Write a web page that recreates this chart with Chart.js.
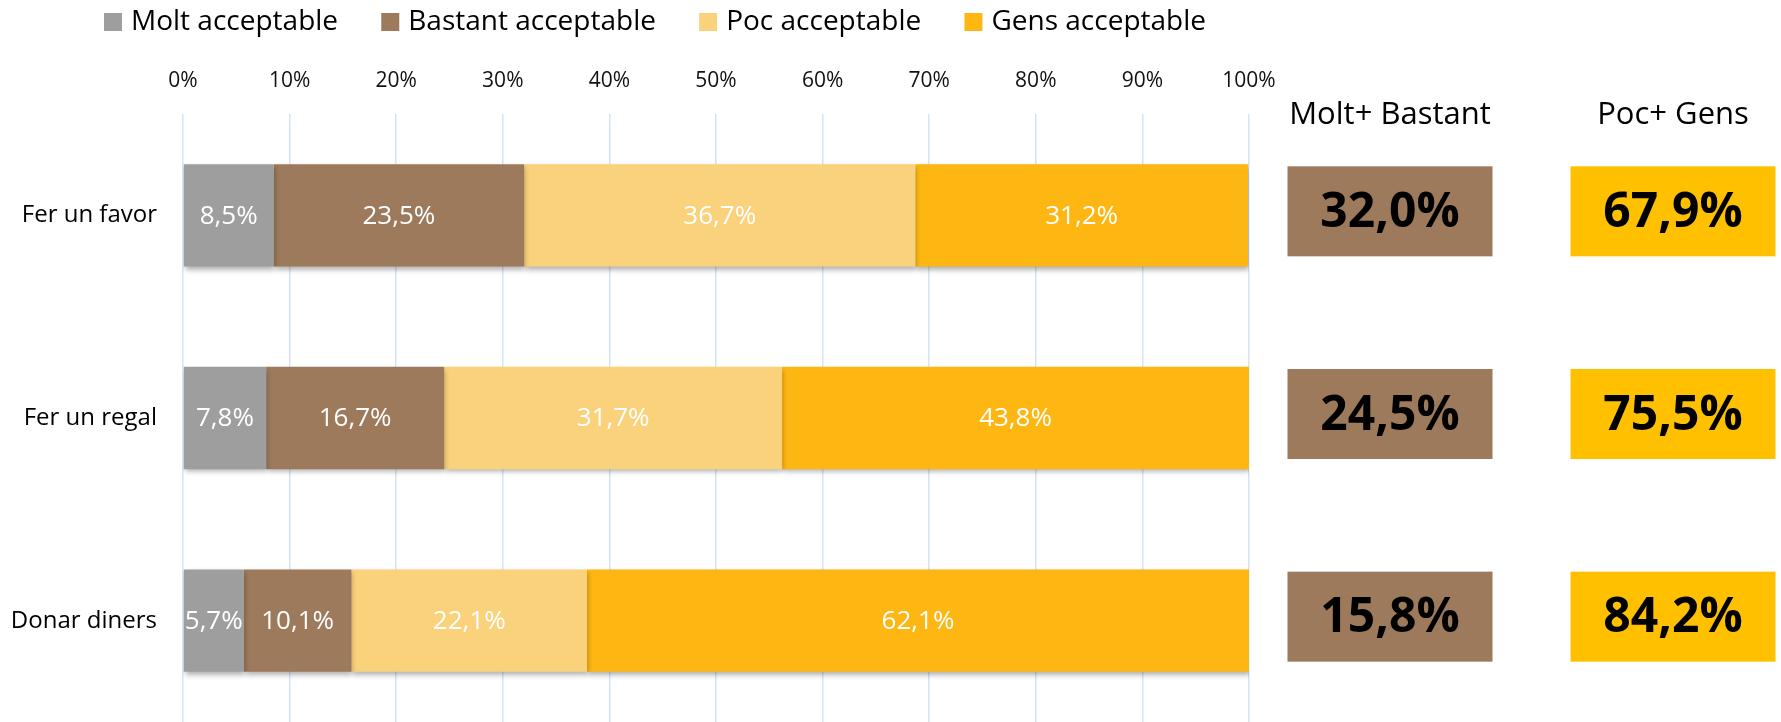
<!DOCTYPE html>
<html lang="ca">
<head>
<meta charset="UTF-8">
<title>Acceptabilitat</title>
<script src="https://cdn.jsdelivr.net/npm/chart.js"></script>
<style>
    body { margin: 0; background: #fff; }
    #wrap { width: 1781px; height: 722px; }
</style>
</head>
<body>
<div id="wrap"><canvas id="chart" width="1781" height="722"></canvas></div>
<script>
// data
const categories = ['Fer un favor', 'Fer un regal', 'Donar diners'];
const seriesNames = ['Molt acceptable', 'Bastant acceptable', 'Poc acceptable', 'Gens acceptable'];
const molt = [8.5, 7.8, 5.7];
const bastant = [23.5, 16.7, 10.1];
const poc = [36.7, 31.7, 22.1];
const gens = [31.2, 43.8, 62.1];
const xTicks = [0, 10, 20, 30, 40, 50, 60, 70, 80, 90, 100];
const summaryTitles = ['Molt+ Bastant', 'Poc+ Gens'];

const colors = ['#9E9E9E', '#9C7A5B', '#FAD27B', '#FDB612'];
const boxColors = ['#9C7A5B', '#FFC000'];
const FONT = "'Open Sans', sans-serif";

function pct(v) {
    return v.toFixed(1).replace('.', ',') + '%';
}

// shadow under the bars + white value labels
const barExtras = {
    id: 'barExtras',
    beforeDatasetsDraw(chart) {
        const ctx = chart.ctx;
        ctx.save();
        ctx.shadowColor = 'rgba(0,0,0,0.3)';
        ctx.shadowBlur = 5;
        ctx.shadowOffsetX = 1;
        ctx.shadowOffsetY = 3;
    },
    afterDatasetsDraw(chart) {
        const ctx = chart.ctx;
        ctx.restore();
        ctx.save();
        ctx.fillStyle = '#fff';
        ctx.font = '26px ' + FONT;
        ctx.textAlign = 'center';
        ctx.textBaseline = 'middle';
        chart.data.datasets.forEach((ds, di) => {
            chart.getDatasetMeta(di).data.forEach((bar, i) => {
                ctx.fillText(pct(ds.data[i]), (bar.x + bar.base) / 2, bar.y + 1);
            });
        });
        ctx.restore();
    }
};

// legend drawn by hand so it sits like the original
const topLegend = {
    id: 'topLegend',
    afterDraw(chart) {
        const ctx = chart.ctx;
        ctx.save();
        ctx.font = '28px ' + FONT;
        ctx.textBaseline = 'middle';
        const startX = 104, endX = 1206, y = 22, box = 18, gapText = 27;
        const widths = seriesNames.map(n => ctx.measureText(n).width);
        const used = widths.reduce((a, w) => a + w + gapText, 0);
        const gap = (endX - startX - used) / (seriesNames.length - 1);
        let x = startX;
        seriesNames.forEach((name, i) => {
            ctx.fillStyle = colors[i];
            ctx.fillRect(x, y - box / 2, box, box);
            ctx.fillStyle = '#000';
            ctx.fillText(name, x + gapText, y);
            x += gapText + widths[i] + gap;
        });
        ctx.restore();
    }
};

// summary boxes on the right
const summary = {
    id: 'summary',
    afterDraw(chart) {
        const ctx = chart.ctx;
        const yScale = chart.scales.y;
        const centers = [1390, 1673];
        const boxW = 205, boxH = 90;
        ctx.save();
        ctx.textAlign = 'center';
        ctx.textBaseline = 'middle';
        ctx.fillStyle = '#000';
        ctx.font = '31px ' + FONT;
        summaryTitles.forEach((t, k) => ctx.fillText(t, centers[k], 115));
        categories.forEach((c, i) => {
            const y = yScale.getPixelForValue(i) - 4;
            const sums = [molt[i] + bastant[i], poc[i] + gens[i]];
            sums.forEach((s, k) => {
                ctx.fillStyle = boxColors[k];
                ctx.fillRect(centers[k] - boxW / 2, y - boxH / 2, boxW, boxH);
                ctx.fillStyle = '#000';
                ctx.font = 'bold 48px ' + FONT;
                ctx.fillText(pct(s), centers[k], y + 2);
            });
        });
        ctx.restore();
    }
};

new Chart(document.getElementById('chart'), {
    type: 'bar',
    data: {
        labels: categories,
        datasets: [molt, bastant, poc, gens].map((d, i) => ({
            label: seriesNames[i],
            data: d,
            backgroundColor: colors[i],
            borderWidth: 0,
            barPercentage: 0.505,
            categoryPercentage: 1
        }))
    },
    options: {
        indexAxis: 'y',
        responsive: false,
        animation: false,
        layout: { padding: { left: 0, right: 532, top: 0, bottom: 0 } },
        plugins: {
            legend: { display: false },
            tooltip: { enabled: false }
        },
        scales: {
            x: {
                position: 'top',
                stacked: true,
                min: 0,
                max: 100,
                afterBuildTicks: (scale) => { scale.ticks = xTicks.map(v => ({ value: v })); },
                afterFit: (scale) => { scale.height = 114; scale.paddingLeft = 0; scale.paddingRight = 0; },
                ticks: {
                    callback: (v) => v + '%',
                    color: '#111',
                    font: { family: FONT, size: 21 },
                    padding: 20,
                    maxRotation: 0
                },
                grid: { color: '#D6E3F2', lineWidth: 1.5, drawTicks: false },
                border: { display: false }
            },
            y: {
                stacked: true,
                afterFit: (scale) => { scale.width = 183; scale.paddingTop = 0; scale.paddingBottom = 0; },
                ticks: {
                    color: '#000',
                    font: { family: FONT, size: 24 },
                    padding: 26
                },
                grid: { display: false, drawTicks: false },
                border: { display: false }
            }
        }
    },
    plugins: [barExtras, topLegend, summary]
});
</script>
</body>
</html>
